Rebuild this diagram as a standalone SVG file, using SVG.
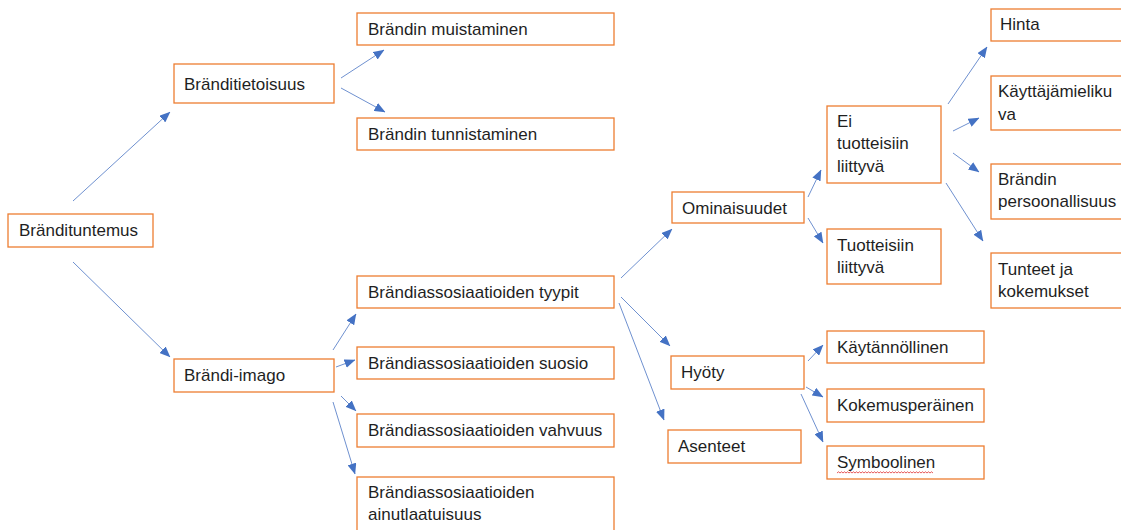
<svg xmlns="http://www.w3.org/2000/svg" width="1121" height="530" viewBox="0 0 1121 530">
  <style>
    .box { fill: #ffffff; stroke: #ED7D31; stroke-width: 1.3; }
    .lbl { font-family: "Liberation Sans", Arial, sans-serif; font-size: 17px; fill: #1f1f1f; }
    .edge { stroke: #6F91D0; stroke-width: 1; fill: none; marker-end: url(#arrow); }
  </style>
  <defs>
    <marker id="arrow" markerUnits="userSpaceOnUse" markerWidth="11" markerHeight="9" viewBox="0 0 11 9" refX="10.5" refY="4.5" orient="auto">
      <path d="M0,0 L11,4.5 L0,9 Z" fill="#4472C4"/>
    </marker>
  </defs>
  <rect width="1121" height="530" fill="#ffffff"/>

  <!-- connectors -->
  <g id="connectors">
    <line class="edge" x1="73" y1="201" x2="170" y2="112"/>
    <line class="edge" x1="73" y1="262" x2="170" y2="357"/>
    <line class="edge" x1="341" y1="78" x2="384" y2="50"/>
    <line class="edge" x1="341" y1="88" x2="385" y2="112"/>
    <line class="edge" x1="333" y1="350" x2="356" y2="314"/>
    <line class="edge" x1="336" y1="367" x2="355" y2="360"/>
    <line class="edge" x1="341" y1="396" x2="356" y2="411"/>
    <line class="edge" x1="333" y1="402" x2="355" y2="474"/>
    <line class="edge" x1="621" y1="278" x2="672" y2="229"/>
    <line class="edge" x1="621" y1="297" x2="670" y2="346"/>
    <line class="edge" x1="619" y1="303" x2="664" y2="420"/>
    <line class="edge" x1="808" y1="197" x2="821" y2="170"/>
    <line class="edge" x1="808" y1="218" x2="823" y2="243"/>
    <line class="edge" x1="948" y1="104" x2="987" y2="47"/>
    <line class="edge" x1="953" y1="131" x2="979" y2="118"/>
    <line class="edge" x1="953" y1="153" x2="979" y2="172"/>
    <line class="edge" x1="946" y1="183" x2="983" y2="241"/>
    <line class="edge" x1="808" y1="361" x2="823" y2="345"/>
    <line class="edge" x1="806" y1="387" x2="823" y2="397"/>
    <line class="edge" x1="801" y1="394" x2="823" y2="442"/>
  </g>

  <!-- nodes -->
  <g id="n-tuntemus">
    <rect class="box" x="8" y="214" width="145" height="33"/>
    <text class="lbl" x="19" y="236">Brändituntemus</text>
  </g>
  <g id="n-tietoisuus">
    <rect class="box" x="174" y="64" width="160" height="39"/>
    <text class="lbl" x="184" y="90">Bränditietoisuus</text>
  </g>
  <g id="n-muistaminen">
    <rect class="box" x="357" y="13" width="257" height="32"/>
    <text class="lbl" x="368" y="35">Brändin muistaminen</text>
  </g>
  <g id="n-tunnistaminen">
    <rect class="box" x="357" y="118" width="257" height="32"/>
    <text class="lbl" x="368" y="140">Brändin tunnistaminen</text>
  </g>
  <g id="n-imago">
    <rect class="box" x="174" y="359" width="160" height="33"/>
    <text class="lbl" x="184" y="381">Brändi-imago</text>
  </g>
  <g id="n-tyypit">
    <rect class="box" x="357" y="276" width="257" height="32"/>
    <text class="lbl" x="368" y="298">Brändiassosiaatioiden tyypit</text>
  </g>
  <g id="n-suosio">
    <rect class="box" x="357" y="347" width="257" height="32"/>
    <text class="lbl" x="368" y="369">Brändiassosiaatioiden suosio</text>
  </g>
  <g id="n-vahvuus">
    <rect class="box" x="357" y="414" width="257" height="33"/>
    <text class="lbl" x="368" y="436">Brändiassosiaatioiden vahvuus</text>
  </g>
  <g id="n-ainutlaatuisuus">
    <rect class="box" x="357" y="477" width="257" height="60"/>
    <text class="lbl" x="368" y="498">Brändiassosiaatioiden</text>
    <text class="lbl" x="368" y="520">ainutlaatuisuus</text>
  </g>
  <g id="n-ominaisuudet">
    <rect class="box" x="672" y="192" width="132" height="31"/>
    <text class="lbl" x="682" y="214">Ominaisuudet</text>
  </g>
  <g id="n-ei-tuotteisiin">
    <rect class="box" x="827" y="106" width="114" height="77"/>
    <text class="lbl" x="837" y="127">Ei</text>
    <text class="lbl" x="837" y="149">tuotteisiin</text>
    <text class="lbl" x="837" y="172">liittyvä</text>
  </g>
  <g id="n-tuotteisiin">
    <rect class="box" x="827" y="229" width="114" height="55"/>
    <text class="lbl" x="837" y="251">Tuotteisiin</text>
    <text class="lbl" x="837" y="273">liittyvä</text>
  </g>
  <g id="n-hinta">
    <rect class="box" x="991" y="9" width="140" height="32"/>
    <text class="lbl" x="1000" y="30">Hinta</text>
  </g>
  <g id="n-kayttajamielikuva">
    <rect class="box" x="991" y="76" width="140" height="54"/>
    <text class="lbl" x="998" y="97">Käyttäjämieliku</text>
    <text class="lbl" x="998" y="120">va</text>
  </g>
  <g id="n-persoonallisuus">
    <rect class="box" x="991" y="164" width="140" height="55"/>
    <text class="lbl" x="998" y="185">Brändin</text>
    <text class="lbl" x="998" y="207">persoonallisuus</text>
  </g>
  <g id="n-tunteet">
    <rect class="box" x="991" y="253" width="140" height="55"/>
    <text class="lbl" x="998" y="275">Tunteet ja</text>
    <text class="lbl" x="998" y="297">kokemukset</text>
  </g>
  <g id="n-hyoty">
    <rect class="box" x="671" y="356" width="133" height="33"/>
    <text class="lbl" x="681" y="378">Hyöty</text>
  </g>
  <g id="n-asenteet">
    <rect class="box" x="668" y="430" width="133" height="33"/>
    <text class="lbl" x="678" y="452">Asenteet</text>
  </g>
  <g id="n-kaytannollinen">
    <rect class="box" x="827" y="331" width="157" height="32"/>
    <text class="lbl" x="837" y="353">Käytännöllinen</text>
  </g>
  <g id="n-kokemusperainen">
    <rect class="box" x="827" y="389" width="157" height="33"/>
    <text class="lbl" x="837" y="411">Kokemusperäinen</text>
  </g>
  <g id="n-symboolinen">
    <rect class="box" x="827" y="446" width="157" height="33"/>
    <text class="lbl" x="837" y="468">Symboolinen</text>
    <path d="M837,473 l1.5,-1.2 l1.5,1.2 l1.5,-1.2 l1.5,1.2 l1.5,-1.2 l1.5,1.2 l1.5,-1.2 l1.5,1.2 l1.5,-1.2 l1.5,1.2 l1.5,-1.2 l1.5,1.2 l1.5,-1.2 l1.5,1.2 l1.5,-1.2 l1.5,1.2 l1.5,-1.2 l1.5,1.2 l1.5,-1.2 l1.5,1.2 l1.5,-1.2 l1.5,1.2 l1.5,-1.2 l1.5,1.2 l1.5,-1.2 l1.5,1.2 l1.5,-1.2 l1.5,1.2 l1.5,-1.2 l1.5,1.2 l1.5,-1.2 l1.5,1.2 l1.5,-1.2 l1.5,1.2 l1.5,-1.2 l1.5,1.2 l1.5,-1.2 l1.5,1.2 l1.5,-1.2 l1.5,1.2 l1.5,-1.2 l1.5,1.2 l1.5,-1.2 l1.5,1.2 l1.5,-1.2 l1.5,1.2 l1.5,-1.2 l1.5,1.2 l1.5,-1.2 l1.5,1.2 l1.5,-1.2 l1.5,1.2 l1.5,-1.2 l1.5,1.2 l1.5,-1.2 l1.5,1.2 l1.5,-1.2 l1.5,1.2 l1.5,-1.2 l1.5,1.2 l1.5,-1.2 l1.5,1.2 l1.5,-1.2 l1.5,1.2" fill="none" stroke="#E03030" stroke-width="0.8"/>
  </g>
</svg>
